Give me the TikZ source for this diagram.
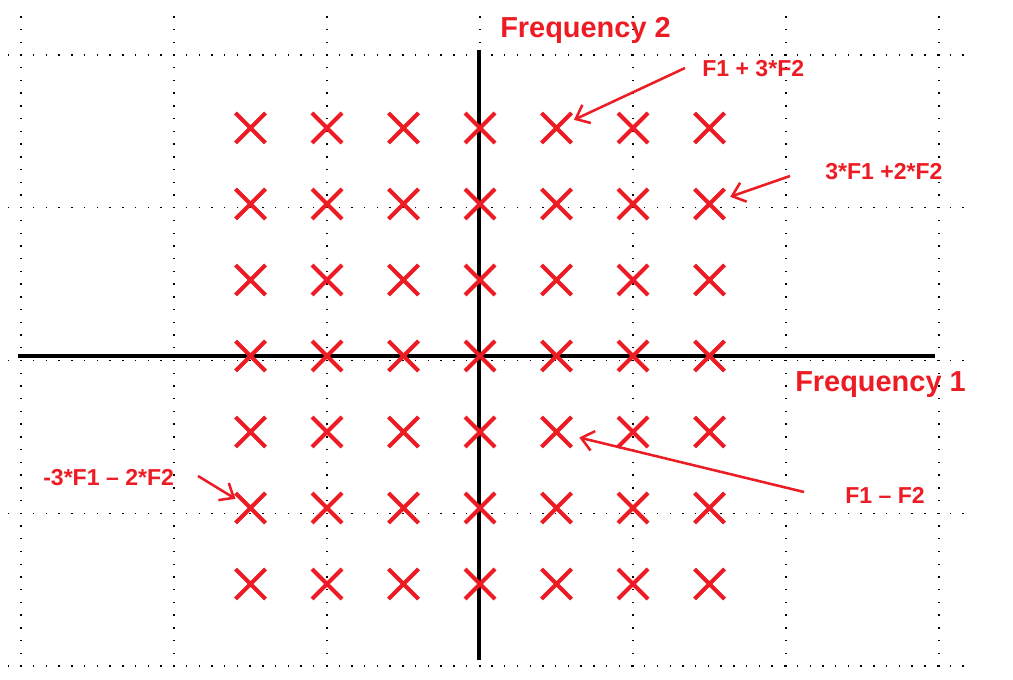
\documentclass[tikz,border=0pt]{standalone}
\usepackage{fontspec}
\setmainfont{Liberation Sans}
\usetikzlibrary{arrows.meta,shapes.misc}
\definecolor{xred}{RGB}{237,28,36}
\begin{document}
\begin{tikzpicture}[x=0.75pt,y=-0.75pt,
  xmark/.style={cross out,draw=xred,line width=3pt,minimum size=19.5pt,inner sep=0pt},
  axisline/.style={line width=2.4pt,black},
  biglabel/.style={text=xred,font=\bfseries\fontsize{21.7}{24}\selectfont,inner sep=0pt,anchor=base west},
  smalllabel/.style={text=xred,font=\bfseries\fontsize{17.3}{20}\selectfont,inner sep=0pt,anchor=base west},
  pointer/.style={draw=xred,line width=1.9pt,-{Straight Barb[length=9pt,width=15pt]}}]
\useasboundingbox (0,0) rectangle (1013,680);
\fill[white] (0,0) rectangle (1013,680);
% dotted grid
\foreach \gx in {21,174,327,480,633,786,939} {
  \foreach \m in {-3,...,48} \fill[black] (\gx-0.7,55+12.73*\m-0.7) rectangle ++(1.4,1.4);
}
\foreach \k in {0,...,4} {
  \foreach \n in {-1,...,74} \fill[black] (21+12.73*\n-0.7,55+152.75*\k-0.7) rectangle ++(1.4,1.4);
}
% axes
\draw[axisline] (18,356) -- (935,356);
\draw[axisline] (479,50) -- (479,660);
% crosses
\foreach \i in {1,...,7} {
  \foreach \j in {1,...,7} {
    \node[xmark] (c\i\j) at ({480+76.5*(\i-4)},{356+76*(\j-4)}) {};
  }
}
% labels
\node[biglabel] (f2) at (500,38) {Frequency 2};
\node[biglabel] (f1) at (795,392) {Frequency 1};
\node[smalllabel] (l1) at (702,77) {F1 + 3*F2};
\node[smalllabel] (l2) at (825,180) {3*F1 +2*F2};
\node[smalllabel] (l3) at (43,485) {-3*F1 – 2*F2};
\node[smalllabel] (l4) at (845,503) {F1 – F2};
% arrow starts
\coordinate (s1) at (685,68);
\coordinate (s2) at (790,176);
\coordinate (s3) at (198,476);
\coordinate (s4) at (804,492);
\draw[pointer,shorten >=2pt] (s1) -- (c51);
\draw[pointer,shorten >=4.5pt] (s2) -- (c72);
\draw[pointer] (s3) -- (c16);
\draw[pointer,shorten >=6pt] (s4) -- (c55);
\end{tikzpicture}
\end{document}
